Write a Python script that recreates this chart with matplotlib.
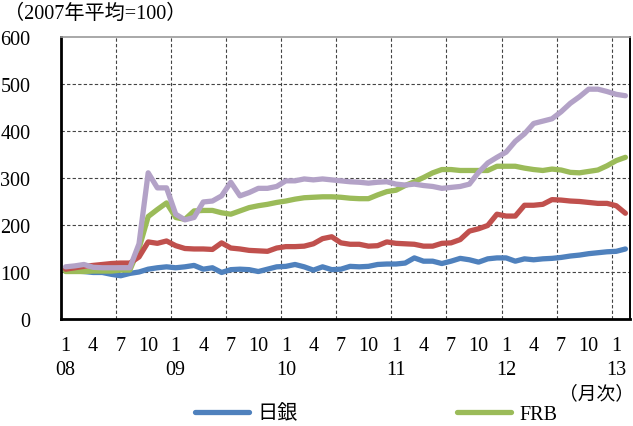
import matplotlib
matplotlib.use("Agg")
import matplotlib.pyplot as plt
from matplotlib.lines import Line2D
from matplotlib.transforms import blended_transform_factory

plt.rcParams["font.family"] = ["Liberation Serif", "Noto Sans CJK JP"]

# Central bank total assets, monthly, Jan 2008 - Feb 2013 (2007 average = 100)
boj = [104, 102, 101, 99, 99, 95, 92, 97, 100, 106, 109, 111,
       109, 111, 114, 106, 109, 99, 105, 106, 105, 101, 106, 111,
       112, 116, 111, 104, 111, 105, 106, 112, 111, 112, 116, 117,
       117, 119, 130, 123, 123, 118, 123, 129, 126, 121, 128, 130,
       130, 123, 128, 126, 128, 129, 131, 134, 136, 139, 141, 143,
       144, 149]
ecb = [106, 109, 112, 114, 116, 118, 119, 119, 132, 164, 161, 166,
       156, 150, 149, 149, 148, 162, 151, 149, 146, 145, 144, 151,
       154, 154, 155, 160, 171, 175, 162, 159, 159, 155, 156, 164,
       161, 160, 159, 155, 155, 161, 162, 169, 187, 192, 199, 223,
       219, 219, 242, 242, 244, 254, 253, 251, 250, 248, 246, 246,
       241, 225]
frb = [101, 101, 101, 102, 102, 102, 104, 104, 150, 218, 233, 247,
       216, 212, 230, 231, 231, 226, 223, 230, 237, 241, 244, 248,
       251, 255, 258, 259, 260, 260, 259, 257, 256, 256, 264, 271,
       274, 284, 292, 301, 311, 318, 318, 316, 316, 316, 316, 325,
       325, 325, 321, 318, 316, 319, 317, 312, 311, 314, 317, 326,
       337, 344]
boe = [111, 113, 116, 110, 109, 109, 109, 109, 160, 311, 279, 279,
       223, 211, 216, 249, 251, 262, 291, 262, 269, 278, 278, 282,
       294, 294, 298, 296, 298, 296, 294, 292, 291, 289, 291, 292,
       287, 285, 287, 284, 282, 278, 280, 282, 287, 312, 332, 344,
       355, 378, 394, 416, 421, 426, 441, 459, 473, 489, 489, 484,
       478, 475]

month_labels = ["1", "4", "7", "10"] * 5 + ["1"]
year_labels = ["08", "09", "10", "11", "12", "13"]
y_ticks = [0, 100, 200, 300, 400, 500, 600]

C_BOJ = "#4F81BD"
C_ECB = "#C0504D"
C_FRB = "#9BBB59"
C_BOE = "#B3A2C7"

fig = plt.figure(figsize=(6.33, 4.27), dpi=100)
ax = fig.add_axes([61 / 633, 1 - 320 / 427, 569 / 633, 282 / 427])

x = list(range(len(boj)))
lw = 3.8
style = dict(lw=lw, solid_capstyle="round", solid_joinstyle="round")
ax.plot(x, boj, color=C_BOJ, zorder=3, **style)
ax.plot(x, frb, color=C_FRB, zorder=4, **style)
ax.plot(x, ecb, color=C_ECB, zorder=5, **style)
ax.plot(x, boe, color=C_BOE, zorder=6, **style)

ax.set_xlim(-0.5, len(boj) - 0.5)
ax.set_ylim(0, 600)

# dashed grid: horizontal at each 100, vertical every half year between categories
grid_kw = dict(color="#444444", lw=0.8, ls=(0, (3, 2)), zorder=1)
for v in y_ticks[1:-1]:
    ax.axhline(v, **grid_kw)
for gx in range(6, len(boj), 6):
    ax.axvline(gx - 0.5, **grid_kw)

ax.set_yticks(y_ticks)
ax.set_yticklabels([str(v) for v in y_ticks], fontsize=14.5)
ax.set_xticks(list(range(0, len(boj), 3)))
ax.set_xticklabels(month_labels, fontsize=14.5)
ax.tick_params(axis="both", length=0)
ax.tick_params(axis="y", pad=22)
ax.tick_params(axis="x", pad=12)

trans = blended_transform_factory(ax.transData, ax.transAxes)
for k, yl in enumerate(year_labels):
    ax.text(12 * k, -0.147, yl, transform=trans, ha="center", va="top", fontsize=14.5)

ax.spines["left"].set_linewidth(2.0)
ax.spines["bottom"].set_linewidth(2.0)
ax.spines["left"].set_color("black")
ax.spines["bottom"].set_color("black")
ax.spines["top"].set_color("#9a9a9a")
ax.spines["top"].set_linewidth(1.2)
ax.spines["right"].set_color("black")
ax.spines["right"].set_linewidth(1.4)

fig.text(4 / 633, 1 - 14 / 427, "（2007年平均=100）", ha="left", va="center", fontsize=14.5)
fig.text(634 / 633, 1 - 394 / 427, "（月次）", ha="right", va="center", fontsize=13.5)

handles = [Line2D([], [], color=C_BOJ, lw=lw, solid_capstyle="round"),
           Line2D([], [], color=C_FRB, lw=lw, solid_capstyle="round")]
fig.legend(handles, ["日銀", "FRB"], loc="center", bbox_to_anchor=(376 / 633, 1 - 415 / 427),
           ncol=2, frameon=False, fontsize=14.5, handlelength=2.7, handletextpad=0.4,
           columnspacing=7.9, borderaxespad=0)

fig.savefig("out.png", dpi=100)
